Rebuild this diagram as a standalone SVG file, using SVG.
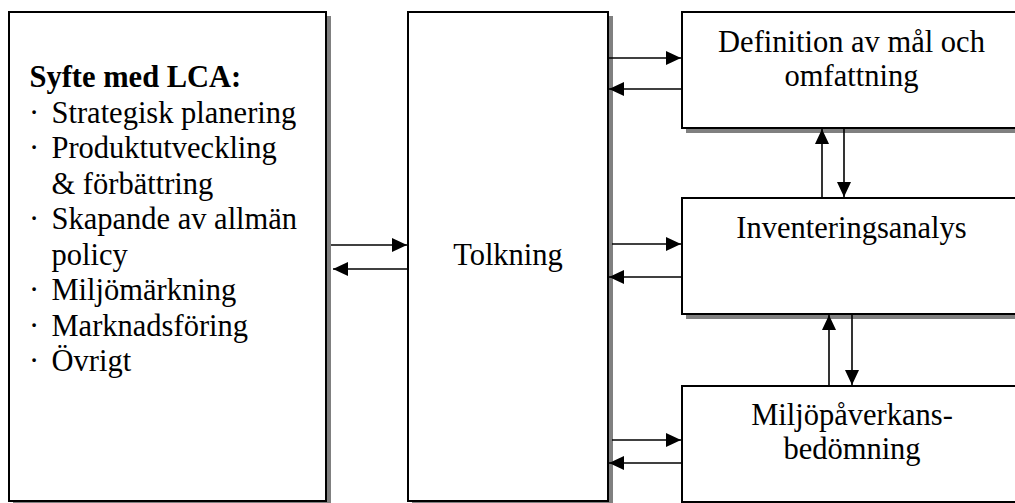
<svg xmlns="http://www.w3.org/2000/svg" width="1015" height="503" viewBox="0 0 1015 503">
<defs>
<style>
.box{fill:#fff;stroke:#000;stroke-width:2}
.sh{fill:#808080;stroke:none}
.t{font-family:"Liberation Serif","Times New Roman",serif;font-size:30.5px;fill:#000}
.c{text-anchor:middle}
.b{font-weight:bold}
.ar{stroke:#000;stroke-width:1.6;fill:none;marker-end:url(#ah)}
</style>
<marker id="ah" markerUnits="userSpaceOnUse" markerWidth="15" markerHeight="14" refX="15" refY="7" orient="auto" viewBox="0 0 15 14">
<path d="M0,0 L15,7 L0,14 Z" fill="#000"/>
</marker>
</defs>
<rect width="1015" height="503" fill="#fff"/>

<g id="syfte">
<rect class="sh" x="13" y="16" width="318" height="489"/>
<rect class="box" x="9" y="12" width="317" height="489"/>
<text class="t b" x="29.5" y="87">Syfte med LCA:</text>
<text class="t" x="29" y="122.5">·</text><text class="t" x="51.5" y="122.5">Strategisk planering</text>
<text class="t" x="29" y="158">·</text><text class="t" x="51.5" y="158">Produktutveckling</text>
<text class="t" x="51.5" y="193.5">&amp; förbättring</text>
<text class="t" x="29" y="229">·</text><text class="t" x="51.5" y="229">Skapande av allmän</text>
<text class="t" x="51.5" y="264.5">policy</text>
<text class="t" x="29" y="300">·</text><text class="t" x="51.5" y="300">Miljömärkning</text>
<text class="t" x="29" y="335.5">·</text><text class="t" x="51.5" y="335.5">Marknadsföring</text>
<text class="t" x="29" y="371">·</text><text class="t" x="51.5" y="371">Övrigt</text>
</g>

<g id="tolkning">
<rect class="sh" x="412" y="16" width="201" height="489"/>
<rect class="box" x="408" y="12" width="200" height="489"/>
<text class="t c" x="508" y="265">Tolkning</text>
</g>

<g id="definition">
<rect class="sh" x="686" y="16" width="340" height="117"/>
<rect class="box" x="682" y="12" width="340" height="116"/>
<text class="t c" x="851.5" y="51.5">Definition av mål och</text>
<text class="t c" x="851.5" y="86">omfattning</text>
</g>

<g id="inventering">
<rect class="sh" x="686" y="202" width="340" height="117"/>
<rect class="box" x="682" y="198" width="340" height="116"/>
<text class="t c" x="851.5" y="238">Inventeringsanalys</text>
</g>

<g id="miljopaverkan">
<rect class="sh" x="686" y="390" width="340" height="117"/>
<rect class="box" x="682" y="386" width="340" height="116"/>
<text class="t c" x="852" y="425">Miljöpåverkans-</text>
<text class="t c" x="852" y="459">bedömning</text>
</g>

<g id="connectors">
<path class="ar" d="M331,245 H407"/>
<path class="ar" d="M407,269 H333"/>
<path class="ar" d="M608,58 H681"/>
<path class="ar" d="M681,89 H609"/>
<path class="ar" d="M612,244 H681"/>
<path class="ar" d="M681,277 H609"/>
<path class="ar" d="M612,440 H681"/>
<path class="ar" d="M681,463 H609"/>
<path class="ar" d="M822,198 V129"/>
<path class="ar" d="M844,129 V197"/>
<path class="ar" d="M829,386 V315"/>
<path class="ar" d="M852,315 V385"/>
</g>
</svg>
